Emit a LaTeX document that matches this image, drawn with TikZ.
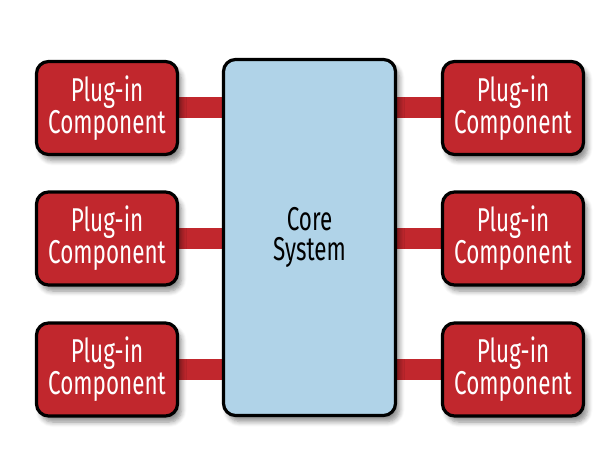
\documentclass[tikz,border=0pt]{standalone}
\usepackage{fontspec}
\setmainfont[FakeStretch=0.68]{Fira Sans}
\usetikzlibrary{shadows.blur,backgrounds}
\definecolor{plugred}{HTML}{C1272D}
\definecolor{coreblue}{HTML}{B0D3E8}
\tikzset{
  box/.style={draw=black, line width=1.6pt, rounded corners=6pt, align=center,
    font=\fontsize{16.5}{15}\selectfont,
    blur shadow={shadow xshift=2pt, shadow yshift=-3pt, shadow blur steps=6,
      shadow blur radius=2.5pt, shadow opacity=45}},
  plugin/.style={box, fill=plugred, text=white, minimum width=70.5pt, minimum height=46.5pt},
  core/.style={box, fill=coreblue, text=black, minimum width=86pt, minimum height=178pt},
  link/.style={draw=plugred, line width=10.5pt}
}
\begin{document}
\begin{tikzpicture}[x=0.5pt,y=-0.5pt]
    \useasboundingbox (0,0) rectangle (616,459);
    \node[core] (core) at (309.5,237.5) {Core\\System};
    % left column
    \node[plugin] (left1) at (107,108) {Plug-in\\Component};
    \node[plugin] (left2) at (107,238.5) {Plug-in\\Component};
    \node[plugin] (left3) at (107,369.5) {Plug-in\\Component};
    % right column
    \node[plugin] (right1) at (513,108) {Plug-in\\Component};
    \node[plugin] (right2) at (513,238.5) {Plug-in\\Component};
    \node[plugin] (right3) at (513,369.5) {Plug-in\\Component};
    \begin{scope}[on background layer]
        \draw[link] (left1.east) -- (left1.east -| core.west);
        \draw[link] (left2.east) -- (left2.east -| core.west);
        \draw[link] (left3.east) -- (left3.east -| core.west);
        \draw[link] (right1.west) -- (right1.west -| core.east);
        \draw[link] (right2.west) -- (right2.west -| core.east);
        \draw[link] (right3.west) -- (right3.west -| core.east);
    \end{scope}
\end{tikzpicture}
\end{document}
